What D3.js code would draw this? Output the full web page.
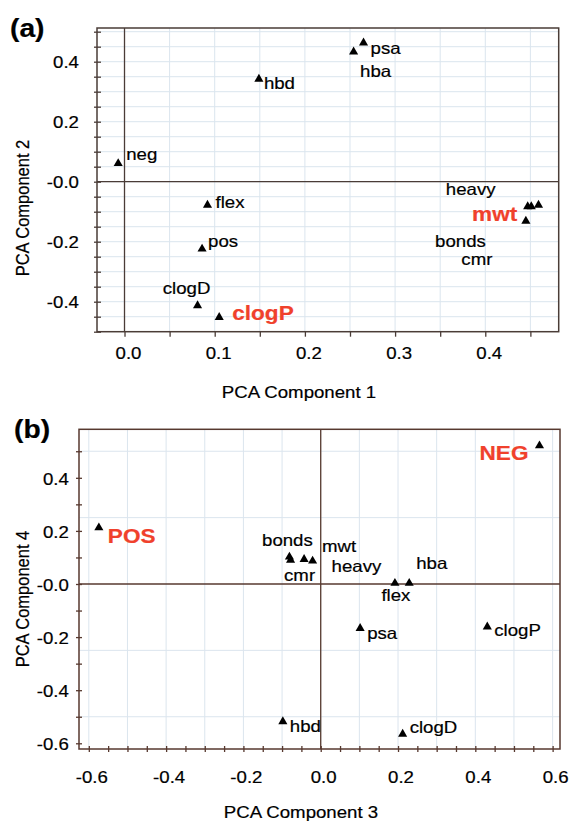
<!DOCTYPE html>
<html>
<head>
<meta charset="utf-8">
<script src="https://cdn.jsdelivr.net/npm/d3@7"></script>
<style>
  html, body { margin: 0; padding: 0; background: #fff; }
  svg { display: block; }
</style>
</head>
<body>
<script>
// ---- Loadings, panel (a): PCA component 1 vs component 2 ----
const namesA = ["neg", "hbd", "psa", "hba", "flex", "pos", "clogD", "clogP", "heavy", "mwt", "bonds", "cmr"];
const comp1  = [-0.007, 0.149, 0.265, 0.254, 0.092, 0.086, 0.081, 0.105, 0.447, 0.451, 0.459, 0.445];
const comp2  = [ 0.061, 0.342, 0.463, 0.433, -0.078, -0.224, -0.413, -0.452, -0.083, -0.083, -0.078, -0.131];
const highlightA = ["clogP", "mwt"];

// ---- Loadings, panel (b): PCA component 3 vs component 4 ----
const namesB = ["POS", "NEG", "bonds", "cmr", "mwt", "heavy", "flex", "hba", "psa", "clogP", "hbd", "clogD"];
const comp3  = [-0.574, 0.566, -0.081, -0.078, -0.043, -0.021, 0.192, 0.229, 0.102, 0.431, -0.098, 0.212];
const comp4  = [ 0.212, 0.521, 0.102, 0.090, 0.093, 0.087, 0.003, 0.003, -0.167, -0.161, -0.518, -0.565];
const highlightB = ["POS", "NEG"];

// ---- Tick values and their printed labels ----
const xTicksA = [0.0, 0.1, 0.2, 0.3, 0.4];
const xTickLabelsA = ["0.0", "0.1", "0.2", "0.3", "0.4"];
const yTicksA = [0.4, 0.2, 0.0, -0.2, -0.4];
const yTickLabelsA = ["0.4", "0.2", "-0.0", "-0.2", "-0.4"];
const xTicksB = [-0.6, -0.4, -0.2, 0.0, 0.2, 0.4, 0.6];
const xTickLabelsB = ["-0.6", "-0.4", "-0.2", "0.0", "0.2", "0.4", "0.6"];
const yTicksB = [0.4, 0.2, 0.0, -0.2, -0.4, -0.6];
const yTickLabelsB = ["0.4", "0.2", "-0.0", "-0.2", "-0.4", "-0.6"];

// ---- Label placement next to each marker: [dx, dy, anchor] in px ----
const placeA = {
  neg: [8, -9, "start"], hbd: [5, 4, "start"], psa: [7, 5, "start"], hba: [22, 19, "middle"],
  flex: [8, -3, "start"], pos: [6, -8, "start"], clogD: [-11, -17, "middle"], clogP: [13, -4, "start"],
  heavy: [-57, -17, "middle"], mwt: [-14, 7, "end"], bonds: [-78, 36, "middle"], cmr: [-49, 38, "middle"]
};
const placeB = {
  POS: [9, 8, "start"], NEG: [-11, 7, "end"], bonds: [-2, -17, "middle"], cmr: [9, 15, "middle"],
  mwt: [18, -13, "start"], heavy: [19, 5, "start"], flex: [1, 12, "middle"], hba: [7, -20, "start"],
  psa: [7, 5, "start"], clogP: [7, 3, "start"], hbd: [7, 5, "start"], clogD: [7, -7, "start"]
};

const W = 572, H = 821;
const FONT = "'Liberation Sans', Arial, Helvetica, sans-serif";
const SX = 1.13;           // horizontal widening of the lettering
const GRID = "#dbe5ee";
const RED = "#f0412c";

const svg = d3.select("body").append("svg")
  .attr("width", W).attr("height", H)
  .style("font-family", FONT);

// Horizontal text helper (widened around its anchor point)
function label(g, x, y, txt, opts = {}) {
  return g.append("text")
    .attr("transform", `translate(${x},${y}) scale(${SX},1)`)
    .attr("dy", "0.35em")
    .attr("text-anchor", opts.anchor || "start")
    .attr("font-size", opts.size || 16.5)
    .attr("font-weight", opts.bold ? "bold" : "normal")
    .attr("fill", opts.fill || "#000")
    .attr("stroke", opts.fill || "#000").attr("stroke-width", 0.2)
    .text(txt);
}

function drawPanel(cfg) {
  const g = svg.append("g");
  const x = d3.scaleLinear().domain(cfg.xDomain).range([cfg.left, cfg.right]);
  const y = d3.scaleLinear().domain(cfg.yDomain).range([cfg.bottom, cfg.top]);

  // light grid
  g.append("g").selectAll("line.gx").data(cfg.gridX).join("line")
    .attr("x1", d => x(d)).attr("x2", d => x(d))
    .attr("y1", cfg.top).attr("y2", cfg.bottom)
    .attr("stroke", GRID).attr("stroke-width", 1);
  g.append("g").selectAll("line.gy").data(cfg.gridY).join("line")
    .attr("y1", d => y(d)).attr("y2", d => y(d))
    .attr("x1", cfg.left).attr("x2", cfg.right)
    .attr("stroke", GRID).attr("stroke-width", 1);

  // zero reference lines
  g.append("line").attr("x1", x(0)).attr("x2", x(0)).attr("y1", cfg.top).attr("y2", cfg.bottom)
    .attr("stroke", cfg.frame).attr("stroke-width", 1.3);
  g.append("line").attr("y1", y(0)).attr("y2", y(0)).attr("x1", cfg.left).attr("x2", cfg.right)
    .attr("stroke", cfg.frame).attr("stroke-width", 1.3);

  // frame
  g.append("rect").attr("x", cfg.left).attr("y", cfg.top)
    .attr("width", cfg.right - cfg.left).attr("height", cfg.bottom - cfg.top)
    .attr("fill", "none").attr("stroke", cfg.frame).attr("stroke-width", 1.5);

  // minor/major tick marks
  const xt = g.append("g")
    .attr("transform", `translate(0,${cfg.bottom + cfg.xTickShift})`)
    .call(d3.axisBottom(x).tickValues(cfg.tickMarksX).tickSize(cfg.xTickLen).tickFormat(""));
  const yt = g.append("g")
    .attr("transform", `translate(${cfg.left + cfg.yTickShift},0)`)
    .call(d3.axisLeft(y).tickValues(cfg.tickMarksY).tickSize(cfg.yTickLen).tickFormat(""));
  [xt, yt].forEach(a => {
    a.select(".domain").remove();
    a.selectAll(".tick line").attr("stroke", cfg.frame).attr("stroke-width", 1.3);
  });

  // tick labels
  const xl = g.append("g")
    .attr("transform", `translate(${cfg.xLabelDx},${cfg.bottom})`)
    .call(d3.axisBottom(x).tickValues(cfg.xTicks).tickSize(0).tickPadding(cfg.xPad)
      .tickFormat((d, i) => cfg.xTickLabels[i]));
  const yl = g.append("g")
    .attr("transform", `translate(${cfg.left},${cfg.yLabelDy})`)
    .call(d3.axisLeft(y).tickValues(cfg.yTicks).tickSize(0).tickPadding(cfg.yPad)
      .tickFormat((d, i) => cfg.yTickLabels[i]));
  [xl, yl].forEach(a => {
    a.select(".domain").remove();
    a.selectAll(".tick text")
      .attr("font-family", FONT).attr("font-size", 16.5).attr("fill", "#000")
      .attr("stroke", "#000").attr("stroke-width", 0.2)
      .attr("transform", `scale(${SX},1)`);
  });

  // markers
  const tri = d3.symbol().type(d3.symbolTriangle).size(36);
  const pts = cfg.names.map((n, i) => ({ n, vx: cfg.xs[i], vy: cfg.ys[i] }));
  g.append("g").selectAll("path").data(pts).join("path")
    .attr("d", tri)
    .attr("transform", d => `translate(${x(d.vx)},${y(d.vy)})`)
    .attr("fill", "#000");

  // point labels
  pts.forEach(d => {
    const [dx, dy, anchor] = cfg.place[d.n];
    const hi = cfg.highlight.includes(d.n);
    label(g, x(d.vx) + dx, y(d.vy) + dy, d.n, {
      anchor, bold: hi, fill: hi ? RED : "#000", size: hi ? 20 : 16.5
    });
  });

  // axis titles
  label(g, cfg.xTitlePos[0], cfg.xTitlePos[1], cfg.xTitle, { anchor: "middle", size: 16.5 });
  g.append("text")
    .attr("transform", `translate(${cfg.yTitlePos[0]},${cfg.yTitlePos[1]}) rotate(-90) scale(1,${SX})`)
    .attr("dy", "0.35em").attr("text-anchor", "middle")
    .attr("font-size", 16.5).attr("fill", "#000")
    .attr("stroke", "#000").attr("stroke-width", 0.2)
    .text(cfg.yTitle);

  // panel tag
  label(g, cfg.tagPos[0], cfg.tagPos[1], cfg.tag, { anchor: "start", size: 25, bold: true });
}

const range = (a, b, s) => d3.range(Math.round(a / s), Math.round(b / s) + 1).map(k => +(k * s).toFixed(3));

drawPanel({
  left: 97, top: 28, right: 558.7, bottom: 331.7,
  xDomain: [-0.0305, 0.4814], yDomain: [-0.5, 0.5123],
  gridX: range(0.05, 0.45, 0.05), gridY: range(-0.45, 0.5, 0.05),
  tickMarksX: range(0, 0.45, 0.05), tickMarksY: range(-0.5, 0.5, 0.05),
  xTickShift: 0, xTickLen: 5, yTickShift: 4, yTickLen: 7,
  xTicks: xTicksA, xTickLabels: xTickLabelsA, yTicks: yTicksA, yTickLabels: yTickLabelsA,
  xLabelDx: 3.5, xPad: 16, yLabelDy: 1, yPad: 16,
  names: namesA, xs: comp1, ys: comp2, place: placeA, highlight: highlightA,
  xTitle: "PCA Component 1", xTitlePos: [299, 392],
  yTitle: "PCA Component 2", yTitlePos: [22, 208],
  tag: "(a)", tagPos: [10, 28],
  frame: "#4a3c37"
});

drawPanel({
  left: 79, top: 429.3, right: 560, bottom: 749,
  xDomain: [-0.6254, 0.6191], yDomain: [-0.6215, 0.5827],
  gridX: range(-0.6, 0.6, 0.1), gridY: [-0.5, -0.25, 0.25, 0.5],
  tickMarksX: range(-0.6, 0.6, 0.05), tickMarksY: range(-0.6, 0.5, 0.1),
  xTickShift: -3, xTickLen: 6, yTickShift: 3, yTickLen: 6,
  xTicks: xTicksB, xTickLabels: xTickLabelsB, yTicks: yTicksB, yTickLabels: yTickLabelsB,
  xLabelDx: 2.5, xPad: 22, yLabelDy: 1, yPad: 9,
  names: namesB, xs: comp3, ys: comp4, place: placeB, highlight: highlightB,
  xTitle: "PCA Component 3", xTitlePos: [301, 812],
  yTitle: "PCA Component 4", yTitlePos: [22, 599],
  tag: "(b)", tagPos: [14, 429],
  frame: "#57392f"
});
</script>
</body>
</html>
